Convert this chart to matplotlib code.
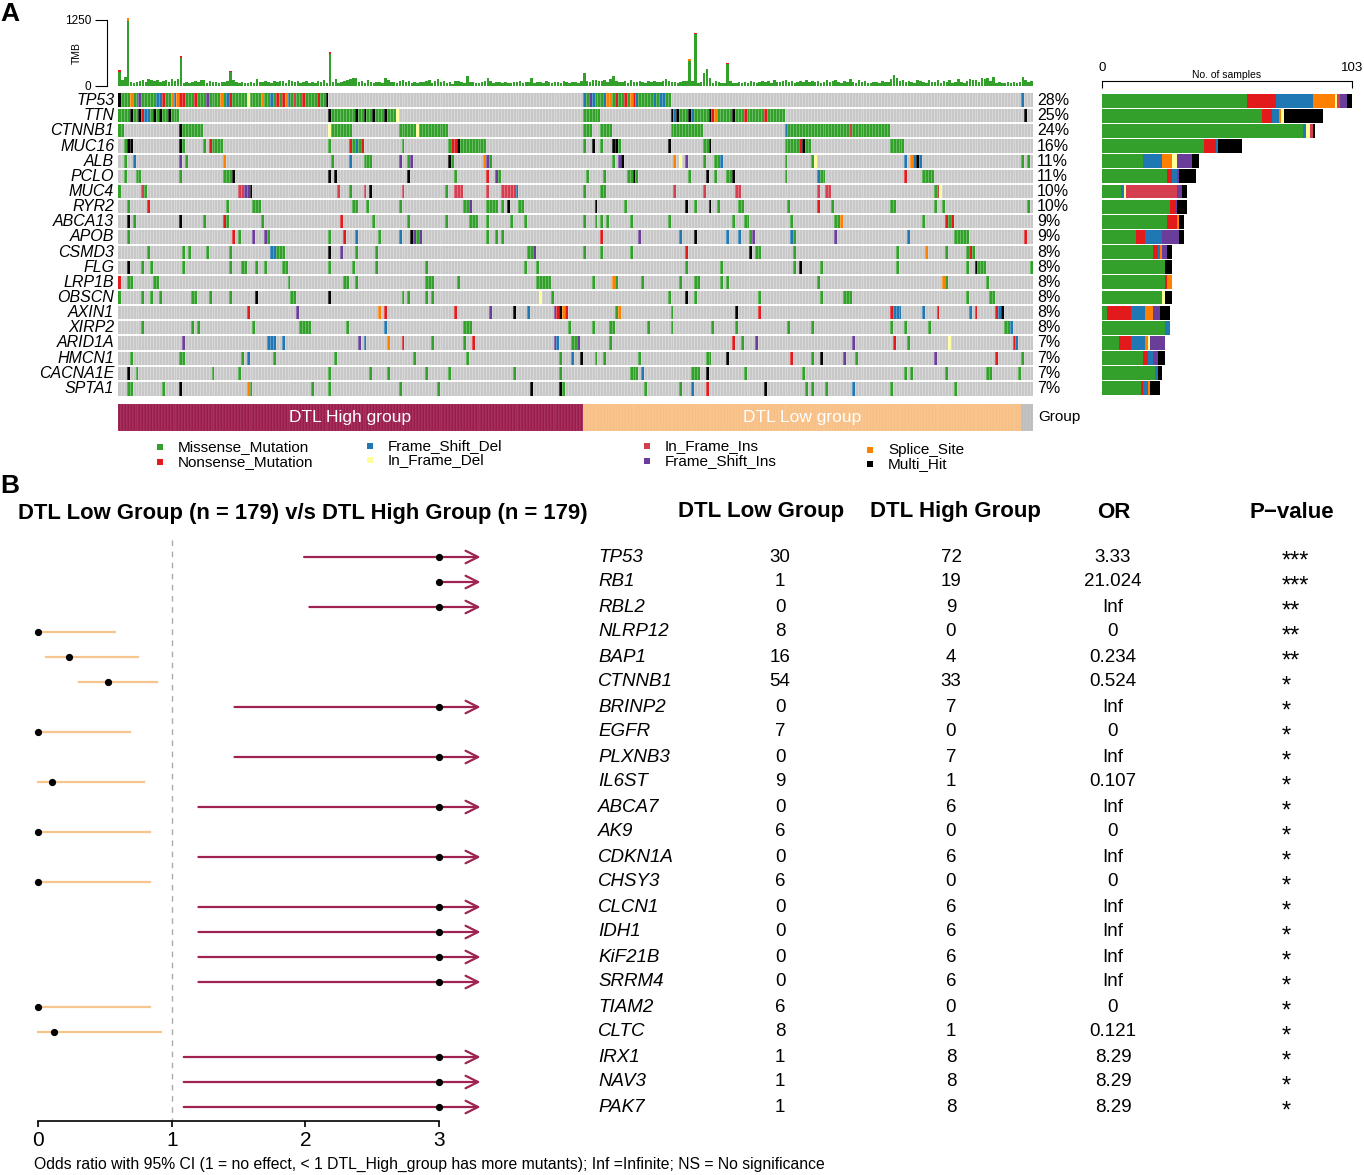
import re
import numpy as np
import matplotlib
matplotlib.use('Agg')
import matplotlib.pyplot as plt
import matplotlib.transforms as mtransforms
from matplotlib.colors import ListedColormap

plt.rcParams['font.family'] = ['Liberation Sans', 'DejaVu Sans']

# ---------------- panel A data ----------------
genes_a = ['TP53', 'TTN', 'CTNNB1', 'MUC16', 'ALB', 'PCLO', 'MUC4', 'RYR2', 'ABCA13', 'APOB',
           'CSMD3', 'FLG', 'LRP1B', 'OBSCN', 'AXIN1', 'XIRP2', 'ARID1A', 'HMCN1', 'CACNA1E', 'SPTA1']
pct_a = [28, 25, 24, 16, 11, 11, 10, 10, 9, 9, 8, 8, 8, 8, 8, 8, 7, 7, 7, 7]

group_names = ['DTL High group', 'DTL Low group', 'NA']
group_sizes = [159, 150, 4]
group_cols = ['#9B1B4D', '#F8BF85', '#BDBDBD']

# mutation classes: code letter, legend name, colour
codes = 'MNDSdIFX'
type_names = ['Missense_Mutation', 'Nonsense_Mutation', 'Frame_Shift_Del', 'Splice_Site',
              'In_Frame_Del', 'In_Frame_Ins', 'Frame_Shift_Ins', 'Multi_Hit']
type_cols = ['#33A02C', '#E31A1C', '#1F78B4', '#FF7F00', '#FFFF99', '#D53E4F', '#6A3D9A', '#000000']

# per gene: sample index (or range) + class letter, later tokens override earlier ones
mut_specs = [
    "0-71M 0X 4S 7F 13D 14D 15N 18S 19D 20S 21N 22N 26N 30F 35S 37D 38N 44d 49S 52D 54N 56N 57S 58D 60I 63N 68N 71X "
    "159-188M 159D 161F 162D 166D 167S 168S 170N 173N 175S 176N 177D 183D 185D 186D 309D",
    "0-20M 4X 7X 8N 9D 10D 12X 14X 17X 72-95M 72X 81X 84X 87X 91X 95d 159-164M "
    "189-227M 189X 190D 191X 195X 196D 202X 203N 204S 210X 214N 221N 310X",
    "0-1M 21-28M 21X 72-79M 72d 96-112M 102d 159-161M 165-168M 189-199M 228-263M 228D 250I",
    "2M 3X 4X 21X 22M 29M 31N 32-35M 72M 79N 80M 81D 82M 83N 97M 113M 114N 115N 116X 117-125M "
    "159M 162X 165M 169X 170X 171M 188X 200-201M 202X 228-236M 233N 234X 264-268M",
    "2M 5D 21F 23M 36S 73M 79D 84-86M 96F 99M 100F 113X 114M 125S 126F 127M 169M 171F 172X "
    "190S 192d 194F 200M 204-205M 206D 228M 237M 238d 269D 271S 272D 273X 274D 309M 311M",
    "2M 6-7M 21M 36-39M 39X 72X 74X 99X 115M 126N 129F 130M 160M 166M 174-177M 176X 195M 201X "
    "204M 208-209M 210X 228M 239D 240-241M 269N 275-278M",
    "0M 8I 9M 41I 42I 43F 44F 45X 75I 79M 84I 86X 97I 112M 115-117I 126I 131-135I 136D 159M 165-166M "
    "190I 200I 211-212I 239I 242-243I 279M 280I 281d",
    "3M 10N 37M 46-48M 80-81M 85M 96M 118-119M 120F 126-129M 131M 133X 137-138M 163X 173M 194X 197M "
    "202X 205M 212-213M 229M 239N 244M 264-265M 279M 282M 311M",
    "3X 5M 21X 29M 36N 37M 49M 76N 87M 99M 112M 120-122M 126M 134M 139M 159M 163M 165M 167M 175M "
    "188M 210M 214-215M 230M 245-246M 247S 275M 283N 284M 285N",
    "3M 39N 41M 46F 50F 51M 72M 77N 81D 89M 96D 100X 101F 102M 103F 126M 129M 131M 165N 178F 192D "
    "197X 208D 212D 216M 217F 230D 231M 245F 270D 286-290M 310N",
    "10M 22M 24M 30M 38M 52D 53D 54-56M 72X 76F 81M 88M 140-141M 142F 159M 165M 175M 194N 216X "
    "218-219M 231M 266M 276S 283M 290M 291N 292M",
    "3X 8M 11M 22M 38M 42-43M 47M 50M 56-57M 72M 80M 88M 105M 139M 143M 194M 206M 231M 233X 240M "
    "266M 290M 293X 294-296M 312M",
    "0N 3-4M 12-13M 58M 77-78M 81M 105-107M 116M 143-147M 162M 169S 170M 179M 192M 197-198M 206M "
    "208M 239M 282S 283M 297M",
    "0M 8M 11M 14M 25-26M 31M 38M 47X 59-60M 72X 97M 99M 105M 107M 144d 148M 188M 194X 197M 219M "
    "240M 248-250M 290M 298-299M",
    "44N 61F 89S 91N 115N 127F 135X 140D 149F 150N 151X 152S 153N 170M 171S 189M 211X 219N 264N "
    "265-267D 275D 280N 291D 293N 300N 301D 302X",
    "8M 25M 27M 46M 62-65M 78M 91D 118-120M 154M 162M 168-169M 181M 189M 203M 211M 229M 237M 264M "
    "269M 277M 303-304M 305D",
    "22F 51-53D 56D 82F 84D 92S 97N 107M 118M 121N 149F 150D 155-156M 157F 168M 210N 213M 218F "
    "251F 265N 270M 284d 306N 307D",
    "4M 21-22M 42M 44D 53M 74M 101M 119M 151M 155D 158X 163M 166M 178M 201-202M 208X 230N 237M "
    "240X 248F 252M 279F 300N 309M",
    "3X 6M 32M 41M 72M 86M 92M 105M 113M 135M 151M 175-177M 179D 196-198M 201X 214M 234M 269M "
    "271M 283M 297-298M 308M",
    "3-4M 15M 21X 44S 45M 66M 72M 96M 109M 141X 151X 152M 180M 192M 196D 201N 221X 235M 237M 242M "
    "251D 264M 286M",
]

# tumour mutation burden per sample (same column order as the matrix)
tmb = [
    270, 110, 170, 1240, 70, 60, 80, 90, 110, 70,
    130, 120, 100, 110, 70, 90, 110, 80, 130, 90,
    140, 525, 60, 70, 50, 80, 90, 70, 120, 110,
    60, 90, 70, 80, 60, 70, 80, 100, 270, 120,
    80, 60, 70, 60, 50, 70, 60, 130, 80, 70,
    100, 80, 60, 90, 80, 100, 90, 60, 110, 100,
    80, 90, 60, 70, 90, 50, 70, 60, 90, 70,
    110, 60, 600, 70, 130, 60, 80, 90, 120, 140,
    150, 150, 70, 90, 60, 110, 70, 60, 70, 80,
    60, 160, 110, 70, 80, 60, 90, 110, 70, 90,
    60, 70, 50, 80, 70, 90, 110, 60, 100, 130,
    70, 90, 60, 70, 40, 90, 100, 70, 60, 190,
    80, 70, 60, 50, 70, 100, 145, 90, 60, 70,
    80, 60, 70, 50, 60, 80, 70, 90, 60, 70,
    80, 160, 60, 70, 80, 60, 90, 70, 60, 80,
    70, 60, 90, 70, 60, 80, 70, 60, 90, 240,
    100, 80, 110, 120, 90, 100, 110, 80, 130, 190,
    90, 80, 70, 90, 60, 110, 80, 70, 90, 80,
    60, 90, 70, 100, 80, 70, 100, 130, 90, 80,
    70, 60, 80, 90, 100, 473, 90, 980, 60, 80,
    250, 315, 150, 60, 90, 70, 60, 60, 410, 100,
    60, 50, 70, 60, 80, 60, 90, 70, 60, 80,
    100, 70, 90, 60, 110, 80, 70, 90, 110, 70,
    90, 60, 80, 100, 70, 110, 80, 90, 70, 100,
    60, 80, 120, 70, 90, 110, 80, 60, 100, 70,
    130, 80, 60, 110, 70, 90, 60, 50, 80, 70,
    60, 90, 80, 70, 130, 210, 160, 90, 110, 70,
    100, 80, 60, 120, 90, 70, 60, 110, 80, 70,
    120, 60, 90, 70, 110, 60, 80, 130, 70, 60,
    90, 140, 110, 120, 70, 150, 130, 160, 90, 170,
    60, 70, 50, 60, 70, 60, 80, 60, 70, 170,
    120, 80, 90,
]
tmb_cap_idx = [0, 3, 21, 38, 72, 195, 197, 201, 208]
tmb_cap_val = [30, 50, 35, 20, 35, 30, 30, 15, 20]
tmb_cap_type = ['N', 'S', 'N', 'N', 'N', 'S', 'N', 'N', 'N']

# No. of samples per gene and class (right-hand bars)
cnt_M = [60, 66, 83, 42, 17, 27, 8, 28, 27, 14, 21, 26, 26, 25, 2, 26, 7, 17, 22, 16]
cnt_N = [12, 4, 0, 5, 0, 2, 0, 2, 4, 4, 2, 0, 1, 0, 10, 0, 5, 2, 0, 1]
cnt_D = [15, 3, 1, 1, 8, 2, 1, 0, 0, 7, 1, 0, 0, 0, 6, 2, 6, 2, 1, 2]
cnt_S = [9, 1, 0, 0, 4, 0, 0, 0, 1, 0, 1, 0, 2, 0, 3, 0, 1, 0, 0, 1]
cnt_d = [1, 1, 2, 0, 2, 0, 1, 0, 0, 0, 0, 0, 0, 1, 0, 0, 1, 0, 0, 0]
cnt_I = [1, 0, 1, 0, 0, 0, 21, 0, 0, 0, 0, 0, 0, 0, 0, 0, 0, 0, 0, 0]
cnt_F = [3, 0, 0, 0, 6, 1, 2, 1, 0, 7, 2, 0, 0, 0, 3, 0, 6, 2, 0, 0]
cnt_X = [2, 16, 1, 10, 3, 7, 2, 4, 2, 2, 2, 3, 0, 3, 4, 0, 0, 3, 2, 4]
bar_max = 103

# ---------------- panel B data ----------------
genes_b = ['TP53', 'RB1', 'RBL2', 'NLRP12', 'BAP1', 'CTNNB1', 'BRINP2', 'EGFR', 'PLXNB3', 'IL6ST',
           'ABCA7', 'AK9', 'CDKN1A', 'CHSY3', 'CLCN1', 'IDH1', 'KiF21B', 'SRRM4', 'TIAM2', 'CLTC',
           'IRX1', 'NAV3', 'PAK7']
low_n = [30, 1, 0, 8, 16, 54, 0, 7, 0, 9, 0, 6, 0, 6, 0, 0, 0, 0, 6, 8, 1, 1, 1]
high_n = [72, 19, 9, 0, 4, 33, 7, 0, 7, 1, 6, 0, 6, 0, 6, 6, 6, 6, 0, 1, 8, 8, 8]
or_txt = ['3.33', '21.024', 'Inf', '0', '0.234', '0.524', 'Inf', '0', 'Inf', '0.107', 'Inf', '0',
          'Inf', '0', 'Inf', 'Inf', 'Inf', 'Inf', '0', '0.121', '8.29', '8.29', '8.29']
p_txt = ['***', '***', '**', '**', '**', '*', '*', '*', '*', '*', '*', '*', '*', '*', '*', '*',
         '*', '*', '*', '*', '*', '*', '*']
inf = np.inf
or_val = [3.33, 21.024, inf, 0, 0.234, 0.524, inf, 0, inf, 0.107, inf, 0, inf, 0, inf, inf, inf,
          inf, 0, 0.121, 8.29, 8.29, 8.29]
ci_lo = [1.99, 3.3, 2.03, 0, 0.06, 0.31, 1.47, 0, 1.47, 0, 1.2, 0, 1.2, 0, 1.2, 1.2, 1.2, 1.2, 0, 0,
         1.09, 1.09, 1.09]
ci_hi = [inf, inf, inf, 0.576, 0.75, 0.89, inf, 0.69, inf, 0.79, inf, 0.84, inf, 0.84, inf, inf,
         inf, inf, 0.84, 0.92, inf, inf, inf]
or_cap = 3
hi_col = '#9E2352'
lo_col = '#F8C58F'

# ---------------- figure ----------------
W, H = 1364, 1175
fig = plt.figure(figsize=(W / 100, H / 100), dpi=100)


def px_axes(x0, y0, x1, y1):
    return fig.add_axes([x0 / W, 1 - y1 / H, (x1 - x0) / W, (y1 - y0) / H])


ax0 = fig.add_axes([0, 0, 1, 1])
ax0.set_xlim(0, W)
ax0.set_ylim(H, 0)
ax0.axis('off')
ax0.set_zorder(5)

n = sum(group_sizes)
ng = len(genes_a)

# TMB bars
ax_t = px_axes(118, 20, 1033, 86)
xs = np.arange(n) + 0.5
ax_t.bar(xs, tmb, width=0.85, color=type_cols[0], linewidth=0)
for i, v, t in zip(tmb_cap_idx, tmb_cap_val, tmb_cap_type):
    ax_t.bar(i + 0.5, v, bottom=tmb[i], width=0.85, color=type_cols[codes.index(t)],
             linewidth=0, clip_on=False)
ax_t.set_xlim(0, n)
ax_t.set_ylim(0, 1250)
for s in ['top', 'right', 'bottom']:
    ax_t.spines[s].set_visible(False)
ax_t.spines['left'].set_position(('outward', 8))
ax_t.spines['left'].set_bounds(0, 1250)
ax_t.set_xticks([])
ax_t.set_yticks([0, 1250])
ax_t.tick_params(axis='y', length=8.5, width=0.8, labelsize=8.5, pad=2.5)
ax0.text(77, 53, 'TMB', rotation=90, fontsize=7.5, ha='center', va='center')

# oncoplot matrix
mat = np.zeros((ng, n), dtype=int)
for r, spec in enumerate(mut_specs):
    for tok in spec.split():
        m = re.fullmatch(r'(\d+)(?:-(\d+))?([A-Za-z])', tok)
        a = int(m.group(1))
        b = int(m.group(2)) if m.group(2) else a
        mat[r, a:b + 1] = codes.index(m.group(3)) + 1

ax_m = px_axes(118, 93, 1033, 396)
cmap = ListedColormap(['#C8C8C8'] + type_cols)
ax_m.pcolormesh(np.arange(n + 1), np.arange(ng + 1), mat, cmap=cmap, vmin=-0.5, vmax=8.5,
                edgecolors='face', linewidth=0)
ax_m.vlines(np.arange(1, n), 0, ng, colors='white', alpha=0.5, linewidth=0.4)
ax_m.hlines(np.arange(1, ng), 0, n, colors='white', linewidth=1.4)
ax_m.set_xlim(0, n)
ax_m.set_ylim(ng, 0)
ax_m.axis('off')
for r, (g, p) in enumerate(zip(genes_a, pct_a)):
    ax_m.text(-1.3, r + 0.5, g, ha='right', va='center', style='italic', fontsize=11.5)
    ax_m.text(314.3, r + 0.5, f'{p}%', ha='left', va='center', fontsize=11.5)

# right-hand bars
ax_r = px_axes(1101.7, 93, 1351.7, 396)
left = np.zeros(ng)
for arr, col in zip([cnt_M, cnt_N, cnt_D, cnt_S, cnt_d, cnt_I, cnt_F, cnt_X], type_cols):
    ax_r.barh(np.arange(ng) + 0.5, arr, left=left, height=0.92, color=col, linewidth=0)
    left += np.array(arr)
ax_r.set_xlim(0, bar_max)
ax_r.set_ylim(ng, 0)
ax_r.axis('off')
ax_r.plot([0, bar_max], [-0.8, -0.8], color='black', lw=0.8, clip_on=False)
ax_r.vlines([0, bar_max], -0.8, -0.35, colors='black', lw=0.8, clip_on=False)
ax_r.text(0, -1.65, '0', ha='center', va='center', fontsize=9.5)
ax_r.text(bar_max, -1.65, str(bar_max), ha='center', va='center', fontsize=9.5)
ax_r.text(bar_max / 2, -0.88, 'No. of samples', ha='center', va='bottom', fontsize=7.5)

# group annotation bar
ax_g = px_axes(118, 404, 1033, 431)
grp = np.repeat(np.arange(len(group_sizes)), group_sizes)[None, :]
ax_g.pcolormesh(np.arange(n + 1), [0, 1], grp, cmap=ListedColormap(group_cols), vmin=-0.5,
                vmax=2.5, edgecolors=(1, 1, 1, 0.05), linewidth=0.3)
ax_g.set_xlim(0, n)
ax_g.set_ylim(1, 0)
ax_g.axis('off')
starts = np.cumsum([0] + group_sizes[:-1])
for name, s, sz in zip(group_names[:2], starts[:2], group_sizes[:2]):
    ax_g.text(s + sz / 2, 0.5, name, color='white', fontsize=12.5, ha='center', va='center')
ax_g.text(n + 1.7, 0.5, 'Group', fontsize=11, ha='left', va='center')

# legend
leg_order = ['Missense_Mutation', 'Nonsense_Mutation', 'Frame_Shift_Del', 'In_Frame_Del',
             'In_Frame_Ins', 'Frame_Shift_Ins', 'Splice_Site', 'Multi_Hit']
leg_pos = [(160, 447), (160, 462), (370, 446), (370, 460), (647, 446), (647, 461), (870, 450), (870, 464)]
for name, (lx, ly) in zip(leg_order, leg_pos):
    ax0.scatter(lx, ly, marker='s', s=14, color=type_cols[type_names.index(name)], linewidths=0)
    ax0.text(lx + 18, ly, name, fontsize=11, va='center', ha='left')

ax0.text(0, 14, 'A', fontsize=19, fontweight='bold', va='center')
ax0.text(0, 486, 'B', fontsize=19, fontweight='bold', va='center')

# ---------------- forest plot ----------------
ax_f = px_axes(20, 530, 590, 1150)
ax_f.set_xlim(-0.1346, 4.1286)
ax_f.set_ylim(23.72, -1.08)
ax_f.patch.set_visible(False)
ax_f.plot([1, 1], [-0.7, 22.56], color='#AAAAAA', lw=1, ls=(0, (4, 4)))
for i in range(len(genes_b)):
    if or_val[i] > 1:
        lo = min(ci_lo[i], or_cap)
        ax_f.annotate('', xy=(or_cap + 0.31, i), xytext=(lo, i),
                      arrowprops=dict(arrowstyle='->,head_length=0.5,head_width=0.25',
                                      color=hi_col, lw=1.6, shrinkA=0, shrinkB=0,
                                      mutation_scale=18))
        pt = min(or_val[i], or_cap)
    else:
        ax_f.plot([ci_lo[i], ci_hi[i]], [i, i], color=lo_col, lw=1.6)
        pt = or_val[i]
    ax_f.plot(pt, i, 'o', ms=4.2, color='black', zorder=4)
for s in ['top', 'right', 'left']:
    ax_f.spines[s].set_visible(False)
ax_f.spines['bottom'].set_position(('data', 22.56))
ax_f.spines['bottom'].set_bounds(0, 3)
ax_f.spines['bottom'].set_linewidth(1.2)
ax_f.set_yticks([])
ax_f.set_xticks([0, 1, 2, 3])
ax_f.tick_params(axis='x', length=4, width=1.2, labelsize=15, pad=3)

# table
trans = mtransforms.blended_transform_factory(ax0.transData, ax_f.transData)
ax0.text(18, 513, 'DTL Low Group (n = 179) v/s DTL High Group (n = 179)', fontsize=15.8,
         fontweight='bold', va='center', ha='left')
for hx, htxt in zip([761, 955, 1114, 1292], ['DTL Low Group', 'DTL High Group', 'OR', 'P\u2212value']):
    ax0.text(hx, 512, htxt, fontsize=16, fontweight='bold', ha='center', va='center')
for i, g in enumerate(genes_b):
    ax0.text(598, i, g, transform=trans, style='italic', fontsize=13.5, ha='left', va='center')
    ax0.text(780, i, str(low_n[i]), transform=trans, fontsize=13.5, ha='center', va='center')
    ax0.text(951, i, str(high_n[i]), transform=trans, fontsize=13.5, ha='center', va='center')
    ax0.text(1113, i, or_txt[i], transform=trans, fontsize=13.5, ha='center', va='center')
    ax0.text(1282, i + 0.2, p_txt[i], transform=trans, fontsize=17, ha='left', va='center')

ax0.text(34, 1164, 'Odds ratio with 95% CI (1 = no effect, < 1 DTL_High_group has more mutants); '
         'Inf =Infinite; NS = No significance', fontsize=11.3, va='center', ha='left')

fig.savefig('out.png', dpi=100)
